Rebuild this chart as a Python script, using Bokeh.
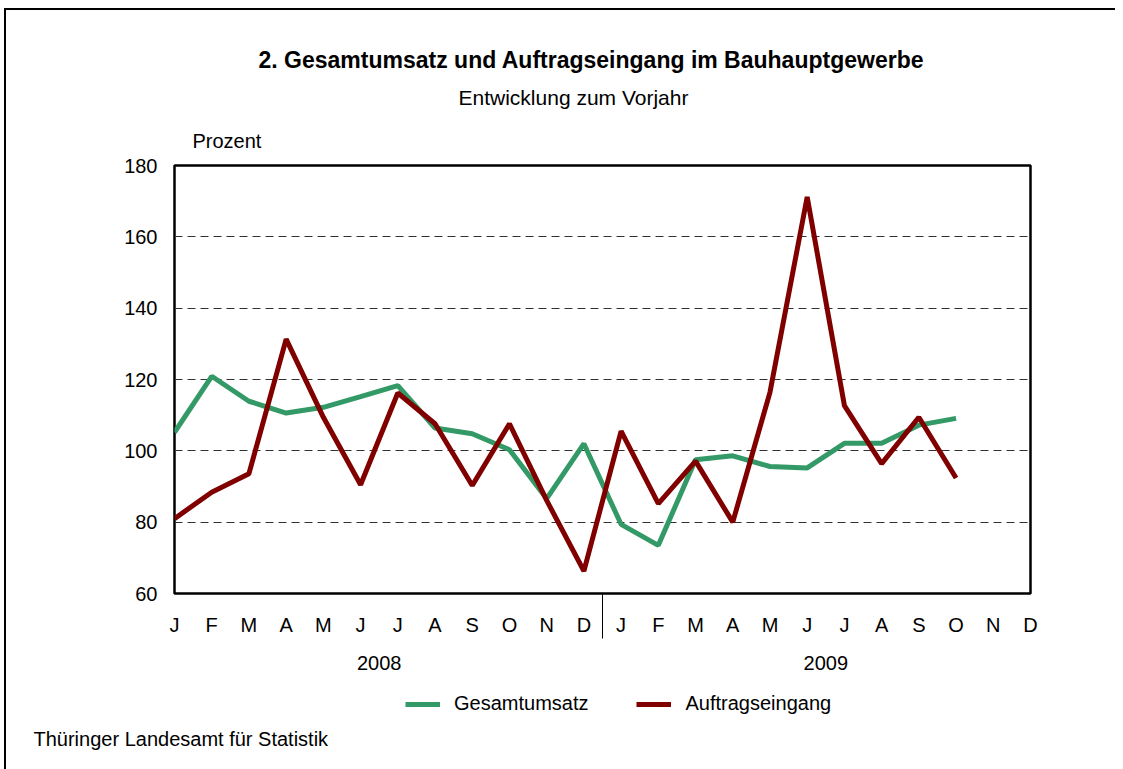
from bokeh.plotting import figure
from bokeh.layouts import column
from bokeh.models import (Range1d, FixedTicker, Legend, LegendItem, LinearAxis, Title)
from bokeh.embed import file_html
from bokeh.resources import INLINE

months = ["J", "F", "M", "A", "M", "J", "J", "A", "S", "O", "N", "D",
          "J", "F", "M", "A", "M", "J", "J", "A", "S", "O", "N", "D"]
years = ["2008", "2009"]
year_pos = [5.5, 17.5]
y_ticks = [60, 80, 100, 120, 140, 160, 180]

gesamtumsatz = [105.2, 120.9, 113.9, 110.6, 112.2, 115.2, 118.3, 106.4, 104.8, 100.3, 86.6, 102.0,
                79.4, 73.5, 97.5, 98.6, 95.6, 95.2, 102.1, 102.1, 107.2, 109.1]
auftragseingang = [81.0, 88.4, 93.6, 131.3, 109.4, 90.5, 116.2, 107.6, 90.3, 107.6, 86.1, 66.3,
                   105.5, 85.2, 97.1, 80.0, 116.4, 171.2, 112.7, 96.4, 109.4, 92.4]

FONT = "Liberation Sans"
GREEN = "#339966"
RED = "#800000"

p = figure(title=None, frame_width=856, frame_height=428,
           x_range=Range1d(0, 23), y_range=Range1d(60, 180),
           output_backend="svg", toolbar_location=None,
           min_border_left=168, min_border_top=155,
           min_border_right=85, min_border_bottom=89)

p.outline_line_color = "black"
p.outline_line_width = 2.5
p.background_fill_color = "white"
p.border_fill_color = "white"

# grid
p.xgrid.grid_line_color = None
p.ygrid.grid_line_color = "#333333"
p.ygrid.grid_line_dash = "8 5"
p.ygrid.grid_line_width = 1

# y axis
p.yaxis.ticker = FixedTicker(ticks=y_ticks)
p.yaxis.axis_line_color = None
p.yaxis.major_tick_out = 0
p.yaxis.major_tick_in = 0
p.yaxis.minor_tick_out = 0
p.yaxis.minor_tick_in = 0
p.yaxis.major_label_standoff = 17
p.yaxis.major_label_text_font = FONT
p.yaxis.major_label_text_font_size = "20px"
p.yaxis.major_label_text_color = "black"

# x axis (months) with year separator as minor tick
x_idx = list(range(len(months)))
xa = p.xaxis[0]
xa.ticker = FixedTicker(ticks=x_idx, minor_ticks=[11.5])
xa.major_label_overrides = {i: m for i, m in enumerate(months)}
xa.axis_line_color = None
xa.major_tick_out = 0
xa.major_tick_in = 0
xa.minor_tick_out = 45
xa.minor_tick_in = 0
xa.minor_tick_line_color = "black"
xa.minor_tick_line_width = 1
xa.major_label_standoff = -25
xa.major_label_text_font = FONT
xa.major_label_text_font_size = "20px"
xa.major_label_text_color = "black"

# second x axis (years)
ya = LinearAxis(ticker=FixedTicker(ticks=year_pos, minor_ticks=[]),
                major_label_overrides={pos: yr for pos, yr in zip(year_pos, years)},
                axis_line_color=None, major_tick_out=0, major_tick_in=0,
                minor_tick_out=0, minor_tick_in=0, major_label_standoff=17,
                major_label_text_font=FONT, major_label_text_font_size="20px",
                major_label_text_color="black")
p.add_layout(ya, "below")

p.line(list(range(len(gesamtumsatz))), gesamtumsatz, line_color=GREEN, line_width=5)
p.line(list(range(len(auftragseingang))), auftragseingang, line_color=RED, line_width=5)

# titles above (added from frame outward)
p.add_layout(Title(text="Prozent", align="left", offset=18, standoff=27,
                   text_font=FONT, text_font_size="20px", text_font_style="normal",
                   text_color="black"), "above")
p.add_layout(Title(text="Entwicklung zum Vorjahr", align="left", offset=284, standoff=11,
                   text_font=FONT, text_font_size="21px", text_font_style="normal",
                   text_color="black"), "above")
p.add_layout(Title(text="2. Gesamtumsatz und Auftragseingang im Bauhauptgewerbe",
                   align="left", offset=84, standoff=12,
                   text_font=FONT, text_font_size="23px", text_font_style="bold",
                   text_color="black"), "above")

# lower strip: legend and source
p2 = figure(title=None, frame_width=856, frame_height=40,
            x_range=Range1d(0, 1), y_range=Range1d(0, 1),
            output_backend="svg", toolbar_location=None,
            min_border_left=168, min_border_right=85, min_border_top=0, min_border_bottom=47)
p2.axis.visible = False
p2.grid.visible = False
p2.outline_line_color = None
p2.background_fill_color = "white"
p2.border_fill_color = "white"

# single-point lines: nothing visible, only used as legend swatches
lg = p2.line(x=[0], y=[0], line_color=GREEN, line_width=5)
lr = p2.line(x=[0], y=[0], line_color=RED, line_width=5)
legend = Legend(items=[LegendItem(label="Gesamtumsatz", renderers=[lg]),
                       LegendItem(label="Auftragseingang", renderers=[lr])],
                orientation="horizontal", location=(231, 7),
                glyph_width=35, glyph_height=20, label_standoff=14, spacing=48,
                padding=0, margin=0, border_line_color=None, background_fill_alpha=0,
                label_text_font=FONT, label_text_font_size="20px", label_text_color="black")
p2.add_layout(legend, "center")
p2.add_layout(Title(text="Thüringer Landesamt für Statistik", align="left", offset=-141,
                    standoff=6, text_font=FONT, text_font_size="20px",
                    text_font_style="normal", text_color="black"), "below")

layout = column(p, p2, spacing=0,
                styles={"border-top": "2px solid black", "border-left": "2px solid black",
                        "margin-left": "4px", "margin-top": "8px"})

open("out.html", "w").write(file_html(layout, INLINE))
